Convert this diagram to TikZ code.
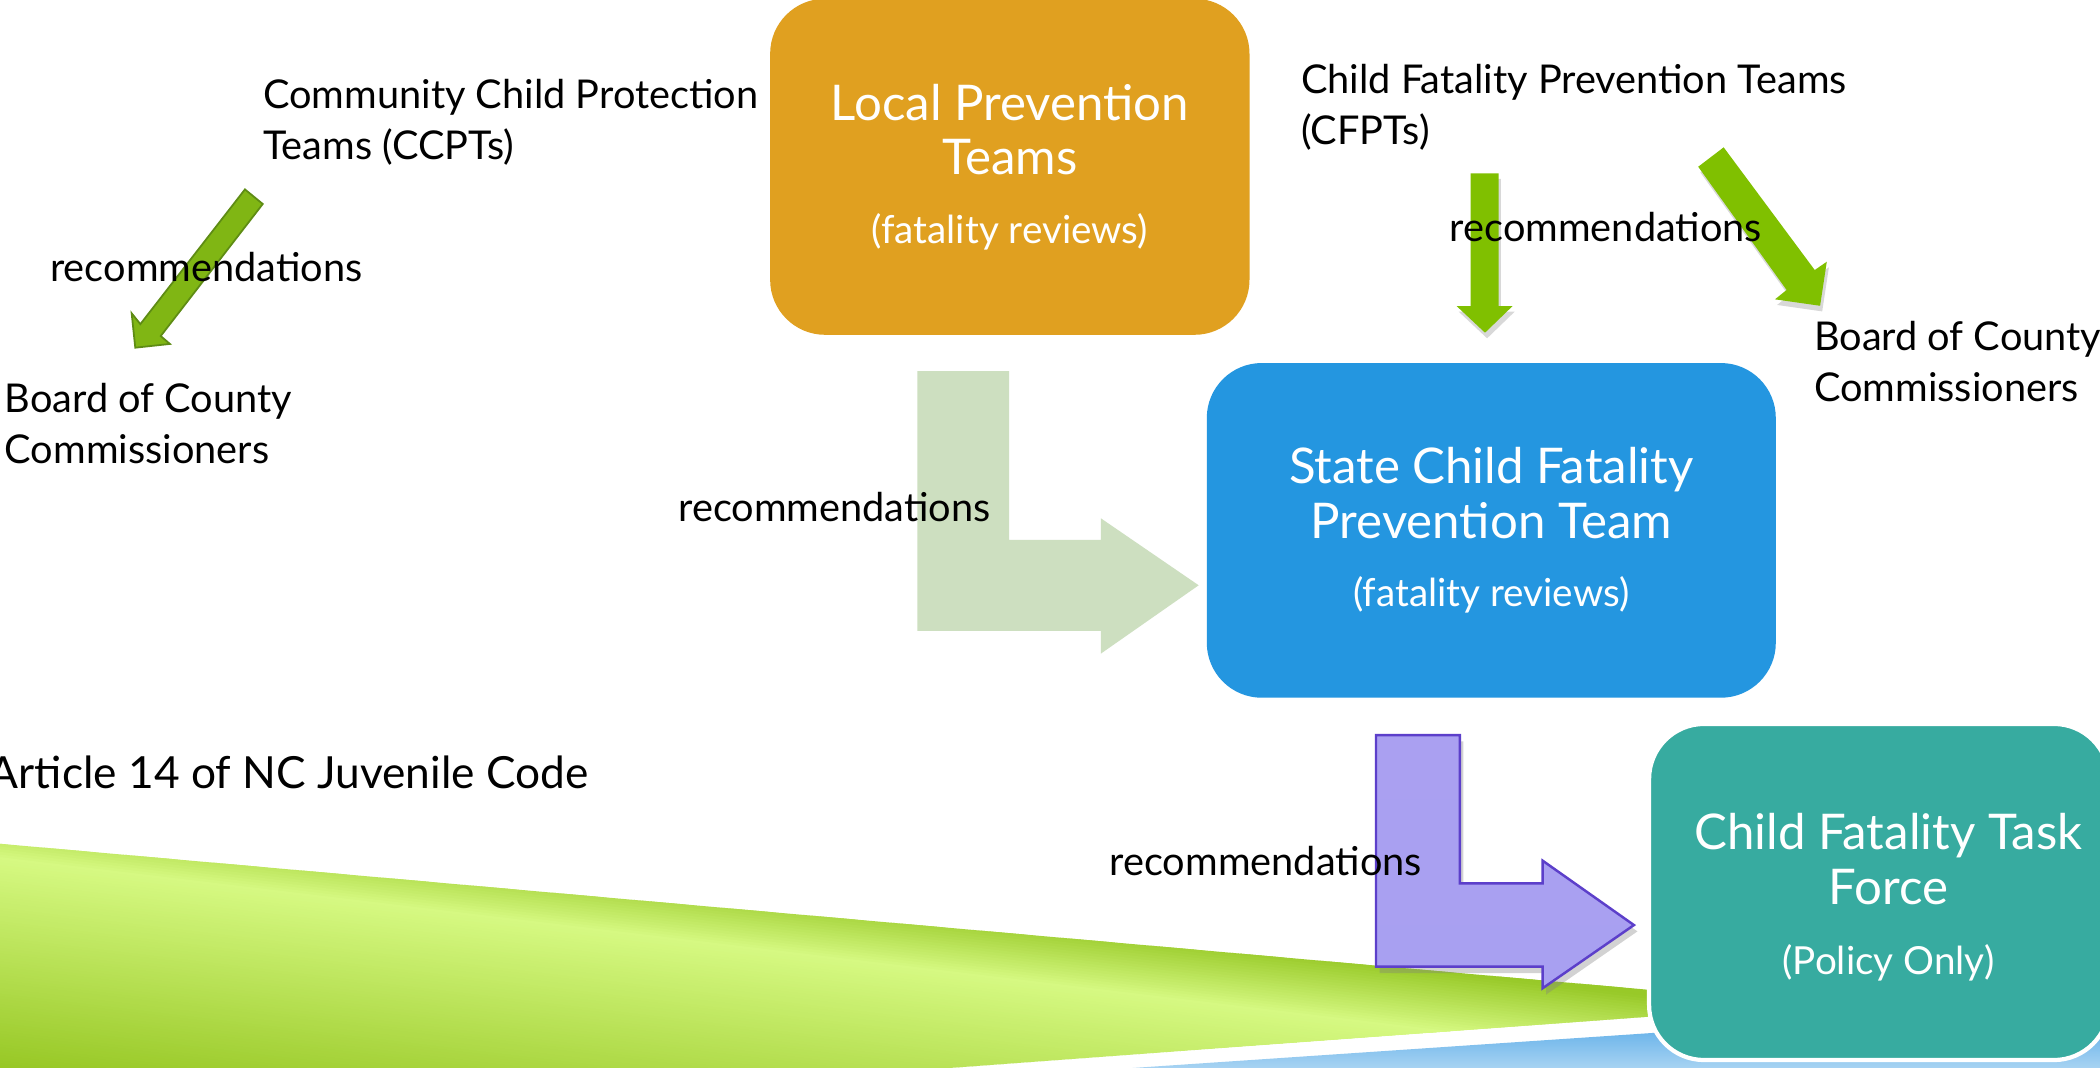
\documentclass[tikz,border=0pt]{standalone}
\usepackage{fontspec}
\setmainfont{Lato}
\usetikzlibrary{shadows}
\definecolor{lporange}{RGB}{224,160,32}
\definecolor{scblue}{RGB}{36,150,224}
\definecolor{cfteal}{RGB}{55,171,160}
\definecolor{palegreen}{RGB}{205,223,192}
\definecolor{purpTop}{RGB}{170,160,241}
\definecolor{purpMid}{RGB}{140,124,234}
\definecolor{purpBot}{RGB}{168,160,241}
\definecolor{purpLine}{RGB}{92,63,202}
\definecolor{agreen}{RGB}{128,192,0}
\definecolor{lgreenfill}{RGB}{128,182,20}
\definecolor{lgreenline}{RGB}{94,140,20}
\definecolor{wlight}{RGB}{214,249,130}
\definecolor{wtop}{RGB}{152,201,40}
\definecolor{wbot}{RGB}{148,197,32}
\definecolor{bdark}{RGB}{58,155,228}
\definecolor{blight}{RGB}{175,215,243}
\newcommand{\subline}[1]{{\fontsize{11}{15.6}\selectfont #1}}
\begin{document}
\begin{tikzpicture}[x=0.0133929cm, y=-0.0133929cm,
  lbl/.style={font=\fontsize{11.3}{14.5}\selectfont, align=left, inner sep=0pt, anchor=base west},
  bigbox/.style={rounded corners=0.55cm, inner sep=0pt, text=white, align=center,
    font=\fontsize{14}{15.6}\selectfont},
  boxtext/.style={inner sep=0pt, text=white, align=center, font=\fontsize{14}{15.6}\selectfont},
  greenarrow/.style={fill=agreen, drop shadow={opacity=0.3, shadow xshift=0.6pt, shadow yshift=-1.6pt}},
  purparrow/.style={top color=purpTop, middle color=purpMid, bottom color=purpBot, draw=purpLine,
    line width=0.7pt, line join=miter, drop shadow={opacity=0.35, shadow xshift=1pt, shadow yshift=-1.8pt}}]
\useasboundingbox (0,0) rectangle (1568,797);
\clip (0,0) rectangle (1568,797);
\fill[white] (0,0) rectangle (1568,797);

% green wedge with slanted gradient bands
\begin{scope}
  \clip (0,630) -- (1355,750) -- (660,801) -- (0,801) -- cycle;
  \foreach \d in {-70,-68,...,0} {
    \pgfmathsetmacro\p{max(0,min(100,(\d+45)/0.45))}
    \fill[wlight!\p!wtop] (-10,{640+(\d)-1.2}) -- (1600,{640+(\d)+192}) -- (1600,{640+(\d)+195}) -- (-10,{640+(\d)+1.8}) -- cycle;
  }
  \foreach \d in {0,2,...,230} {
    \pgfmathsetmacro\p{max(0,100-(\d)/1.65)}
    \fill[wlight!\p!wbot] (-10,{640+(\d)-1.2}) -- (1600,{640+(\d)+192}) -- (1600,{640+(\d)+195}) -- (-10,{640+(\d)+1.8}) -- cycle;
  }
\end{scope}

% blue wedge
\shade[top color=bdark, bottom color=blight] (840,797.8) -- (1600,746.6) -- (1600,801) -- (840,801) -- cycle;

% boxes
\node[bigbox, fill=lporange, minimum width=4.795cm, minimum height=3.362cm] (local) at (754,124.5)
  {Local Prevention\\Teams\\[3.8pt]\subline{(fatality reviews)}};
\node[bigbox, fill=scblue, minimum width=5.692cm, minimum height=3.348cm] (state) at (1113.5,396)
  {State Child Fatality\\Prevention Team\\[3.8pt]\subline{(fatality reviews)}};
\node[bigbox, fill=cfteal, draw=white, line width=1.2pt, minimum width=4.60cm, minimum height=3.362cm] (task) at (1403,666) {};
\node[boxtext] (tasktext) at (1410,670)
  {Child Fatality Task\\Force\\[4.5pt]\subline{(Policy Only)}};

% pale green L arrow (local -> state)
\fill[palegreen] (685,277) -- (753.4,277) -- (753.4,403) -- (822,403) -- (822,387) -- (895,437)
  -- (822,488) -- (822,471) -- (685,471) -- cycle;

% purple L arrow (state -> task force)
\path[purparrow] (1027.4,548.8) -- (1090.1,548.8) -- (1090.1,659.5) -- (1151.8,659.5) -- (1151.8,642.6)
  -- (1220,690.7) -- (1151.8,737.9) -- (1151.8,721.8) -- (1027.4,721.8) -- cycle;

% CCPT arrow to board (left)
\filldraw[fill=lgreenfill, draw=lgreenline, line width=0.5pt, line join=miter]
  (182.9,141.4) -- (196.2,152.3) -- (120,250.9) -- (126.9,256.8) -- (101,259.6) -- (98.3,233.9) -- (104.8,242) -- cycle;

% CFPT arrows
\path[greenarrow] (1098,129.4) -- (1119,129.4) -- (1119,228.5) -- (1129.4,228.5) -- (1108.8,248.4)
  -- (1087.6,228.5) -- (1098,228.5) -- cycle;
\path[greenarrow] (1268,124.5) -- (1287,110) -- (1355,201.6) -- (1364,195.4) -- (1359,228.3)
  -- (1325.3,223.5) -- (1334,216.5) -- cycle;

% labels (multi-line labels: base = last line)
\node[lbl] (ccpt) at (196,119) {Community Child Protection\\Teams (CCPTs)};
\node[lbl] (rec1) at (37,210) {recommendations};
\node[lbl] (bocc1) at (3,346) {Board of County\\Commissioners};
\node[lbl] (cfpt) at (971,108) {Child Fatality Prevention Teams\\(CFPTs)};
\node[lbl] (rec2) at (1082,180.5) {recommendations};
\node[lbl] (bocc2) at (1354,300) {Board of County\\Commissioners};
\node[lbl] (rec3) at (506,389) {recommendations};
\node[lbl, anchor=base east, font=\fontsize{12.6}{15}\selectfont] (art) at (440,588.6) {Article 14 of NC Juvenile Code};
\node[lbl] (rec4) at (828,654) {recommendations};
\end{tikzpicture}
\end{document}
